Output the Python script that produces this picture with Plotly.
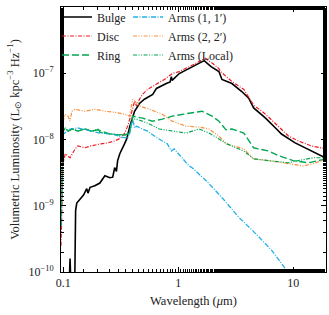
import plotly.graph_objects as go
import math

# ---------------- data (wavelength in micron, luminosity) ----------------
bulge_wl = [0.0955, 0.112, 0.1145, 0.117, 0.1255, 0.128, 0.131, 0.140, 0.150, 0.160, 0.164, 0.171, 0.188,
            0.208, 0.230, 0.254, 0.269, 0.280, 0.290, 0.297, 0.310, 0.340, 0.356, 0.380, 0.393, 0.417,
            0.460, 0.508, 0.600, 0.646, 0.787, 0.850, 0.871, 0.885, 1.02, 1.24, 1.52, 1.68, 1.93, 2.26,
            2.40, 2.93, 3.57, 4.10, 4.53, 5.75, 7.16, 7.91, 10.4, 14.4, 19.4]
bulge_lum = [5e-11, 5e-11, 1.6e-10, 5e-11, 5e-11, 8.5e-10, 1.1e-9, 1.27e-9, 1.45e-9, 1.81e-9, 1.55e-9, 1.9e-9, 2.0e-9,
             2.2e-9, 2.84e-9, 2.65e-9, 2.7e-9, 3.75e-9, 3.3e-9, 4.8e-9, 6.1e-9, 8.5e-9, 1.02e-8, 1.6e-8, 1.9e-8, 2.67e-8,
             3.5e-8, 4.05e-8, 4.8e-8, 5.9e-8, 7.0e-8, 7.4e-8, 8.9e-8, 7.8e-8, 9.9e-8, 1.18e-7, 1.40e-7, 1.55e-7, 1.26e-7, 1.06e-7,
             8.05e-8, 7.0e-8, 5.3e-8, 4.2e-8, 3.0e-8, 2.1e-8, 1.44e-8, 1.21e-8, 8.9e-9, 6.7e-9, 5.2e-9]

disc_wl = [0.0955, 0.0975, 0.0995, 0.104, 0.1145, 0.1265, 0.134, 0.154, 0.174, 0.212, 0.244, 0.280, 0.316,
           0.342, 0.363, 0.385, 0.417, 0.434, 0.460, 0.489, 0.540, 0.659, 0.757, 0.888, 1.02, 1.24, 1.52,
           1.72, 2.0, 2.26, 2.35, 2.93, 3.72, 4.53, 5.75, 7.45, 9.09, 11.1, 14.4, 19.4]
disc_lum = [2.5e-10, 1.0e-9, 4.3e-9, 6.1e-9, 5.3e-9, 7.2e-9, 8.0e-9, 7.5e-9, 8.0e-9, 8.6e-9, 8.9e-9, 9.5e-9, 1.05e-8,
            1.25e-8, 1.59e-8, 2.25e-8, 3.8e-8, 3.2e-8, 4.05e-8, 4.8e-8, 5.7e-8, 7.0e-8, 8.05e-8, 9.9e-8, 1.06e-7, 1.25e-7, 1.5e-7,
            1.68e-7, 1.4e-7, 1.17e-7, 1.05e-7, 7.5e-8, 5.7e-8, 3.3e-8, 2.41e-8, 1.59e-8, 1.13e-8, 9.5e-9, 8.0e-9, 7.2e-9]

ring_wl = [0.0955, 0.0977, 0.0996, 0.104, 0.110, 0.119, 0.134, 0.154, 0.177, 0.200, 0.254, 0.310, 0.342,
           0.377, 0.401, 0.489, 0.596, 0.727, 0.888, 1.24, 1.61, 1.97, 2.26, 2.60, 2.93, 3.72, 4.53,
           6.11, 7.45, 10.0, 13.5, 19.4]
ring_lum = [5e-10, 4e-9, 1.34e-8, 1.49e-8, 1.34e-8, 1.44e-8, 1.34e-8, 1.44e-8, 1.34e-8, 1.4e-8, 1.21e-8, 1.17e-8, 1.17e-8,
            1.25e-8, 2.25e-8, 2.1e-8, 1.89e-8, 2.03e-8, 2.25e-8, 2.49e-8, 2.67e-8, 2.25e-8, 1.89e-8, 1.4e-8, 1.44e-8, 1.25e-8, 7.5e-9,
            6.7e-9, 5.7e-9, 4.8e-9, 4.45e-9, 5.1e-9]

arms11_wl = [0.0955, 0.0977, 0.0996, 0.1145, 0.134, 0.208, 0.269, 0.316, 0.363, 0.377, 0.401, 0.417, 0.434,
             0.489, 0.540, 0.659, 0.804, 0.871, 0.923, 1.24, 1.32, 1.75, 2.40, 3.36, 4.72, 6.48, 8.57, 9.4]
arms11_lum = [5e-10, 5e-9, 1.2e-8, 1.44e-8, 1.49e-8, 1.25e-8, 1.21e-8, 1.09e-8, 1.05e-8, 1.25e-8, 2.03e-8, 1.49e-8, 1.59e-8,
              1.44e-8, 1.34e-8, 1.05e-8, 8.6e-9, 6.7e-9, 7.2e-9, 4.0e-9, 3.75e-9, 2.39e-9, 1.33e-9, 6.7e-10, 3.8e-10, 2.14e-10, 1.15e-10, 9e-11]

arms22_wl = [0.0955, 0.0975, 0.0996, 0.104, 0.110, 0.114, 0.119, 0.1265, 0.154, 0.188, 0.230, 0.280, 0.342,
             0.377, 0.401, 0.417, 0.434, 0.460, 0.562, 0.727, 0.888, 1.17, 1.52, 1.85, 2.26, 2.60, 3.72,
             4.53, 6.11, 9.09, 12.2, 14.9, 19.4]
arms22_lum = [1e-9, 1.0e-8, 1.89e-8, 2.41e-8, 2.25e-8, 1.9e-8, 2.67e-8, 2.86e-8, 2.67e-8, 2.86e-8, 2.67e-8, 2.58e-8, 2.41e-8,
              2.25e-8, 4.05e-8, 3.8e-8, 3.5e-8, 3.2e-8, 2.86e-8, 2.41e-8, 1.89e-8, 1.59e-8, 1.54e-8, 1.44e-8, 1.13e-8, 8.6e-9, 7.2e-9,
              5.1e-9, 4.8e-9, 4.3e-9, 4.0e-9, 4.3e-9, 5.1e-9]

local_wl = [0.0955, 0.0977, 0.0996, 0.104, 0.110, 0.119, 0.134, 0.154, 0.177, 0.200, 0.208, 0.254, 0.310,
            0.342, 0.377, 0.401, 0.434, 0.540, 0.685, 0.888, 1.17, 1.52, 1.85, 2.26, 2.65, 3.72, 4.53,
            6.11, 9.09, 11.1, 14.9, 19.4]
local_lum = [5e-10, 4e-9, 1.34e-8, 1.49e-8, 1.34e-8, 1.44e-8, 1.34e-8, 1.44e-8, 1.34e-8, 1.44e-8, 1.29e-8, 1.21e-8, 1.17e-8,
             1.17e-8, 1.25e-8, 2.03e-8, 2.03e-8, 1.77e-8, 1.44e-8, 1.34e-8, 1.25e-8, 1.44e-8, 1.25e-8, 1.02e-8, 8.6e-9, 6.7e-9, 5.1e-9,
             4.8e-9, 4.45e-9, 4.8e-9, 5.3e-9, 5.3e-9]

y_tick_vals = [1e-10, 1e-9, 1e-8, 1e-7, 1e-6]
y_tick_text = ["10<sup>−10</sup>", "10<sup>−9</sup>", "10<sup>−8</sup>", "10<sup>−7</sup>", "10<sup>−6</sup>"]
x_tick_vals = [0.1, 1, 10]
x_tick_text = ["0.1", "1", "10"]

FONT = "Liberation Serif"

series = [
    ("Bulge", bulge_wl, bulge_lum, "#000000", "solid", 1.6, "legend"),
    ("Disc", disc_wl, disc_lum, "#ee1c25", "4px,1.5px,1px,1.5px", 1.2, "legend"),
    ("Ring", ring_wl, ring_lum, "#00a651", "7px,3px", 1.4, "legend"),
    ("Arms (1, 1′)", arms11_wl, arms11_lum, "#22b0e8", "5px,1.5px,1px,1.5px", 1.3, "legend2"),
    ("Arms (2, 2′)", arms22_wl, arms22_lum, "#f7903d", "4px,1.5px,1px,1.5px,1px,1.5px", 1.2, "legend2"),
    ("Arms (Local)", local_wl, local_lum, "#00a651", "4px,1.5px,1px,1.5px,1px,1.5px", 1.2, "legend2"),
]

fig = go.Figure()
for name, wl, lum, col, dash, w, lg in series:
    fig.add_trace(go.Scatter(x=wl, y=lum, mode="lines", name=name,
                             line=dict(color=col, dash=dash, width=w), legend=lg))

axis_common = dict(showline=True, linecolor="black", linewidth=1, mirror="allticks",
                   ticks="inside", ticklen=5, tickcolor="black", showgrid=False, zeroline=False,
                   automargin=False,
                   tickfont=dict(family=FONT, size=12, color="#222"))

fig.update_xaxes(type="log", range=[math.log10(0.0955), math.log10(19.3)],
                 tickvals=x_tick_vals, ticktext=x_tick_text,
                 minor=dict(ticks="inside", ticklen=3, tickcolor="black", showgrid=False),
                 title=dict(text="Wavelength (<i>μ</i>m)", font=dict(family=FONT, size=12.5, color="#222"), standoff=6),
                 **axis_common)
fig.update_yaxes(type="log", range=[-10, -6],
                 tickvals=y_tick_vals, ticktext=y_tick_text,
                 minor=dict(ticks="inside", ticklen=3, tickcolor="black", showgrid=False),
                 ticklabelstandoff=4,
                 title=dict(text="Volumetric Luminosity (L<sub>⊙</sub> kpc<sup>−3</sup> Hz<sup>−1</sup>)",
                            font=dict(family=FONT, size=12.5, color="#222"), standoff=6),
                 **axis_common)

leg_common = dict(bgcolor="rgba(0,0,0,0)", borderwidth=0, font=dict(family=FONT, size=12, color="#222"),
                  xanchor="left", yanchor="top", tracegroupgap=0, itemwidth=30)
fig.update_layout(
    width=329, height=315,
    margin=dict(l=61, r=3, t=5, b=43),
    paper_bgcolor="white", plot_bgcolor="white",
    showlegend=True,
    legend=dict(x=-0.015, y=1.017, **leg_common),
    legend2=dict(x=0.253, y=1.017, **leg_common),
)

fig.write_html("out.html", config={"responsive": False, "displayModeBar": False},
               post_script="document.body.style.margin='0';document.body.style.padding='0';")
